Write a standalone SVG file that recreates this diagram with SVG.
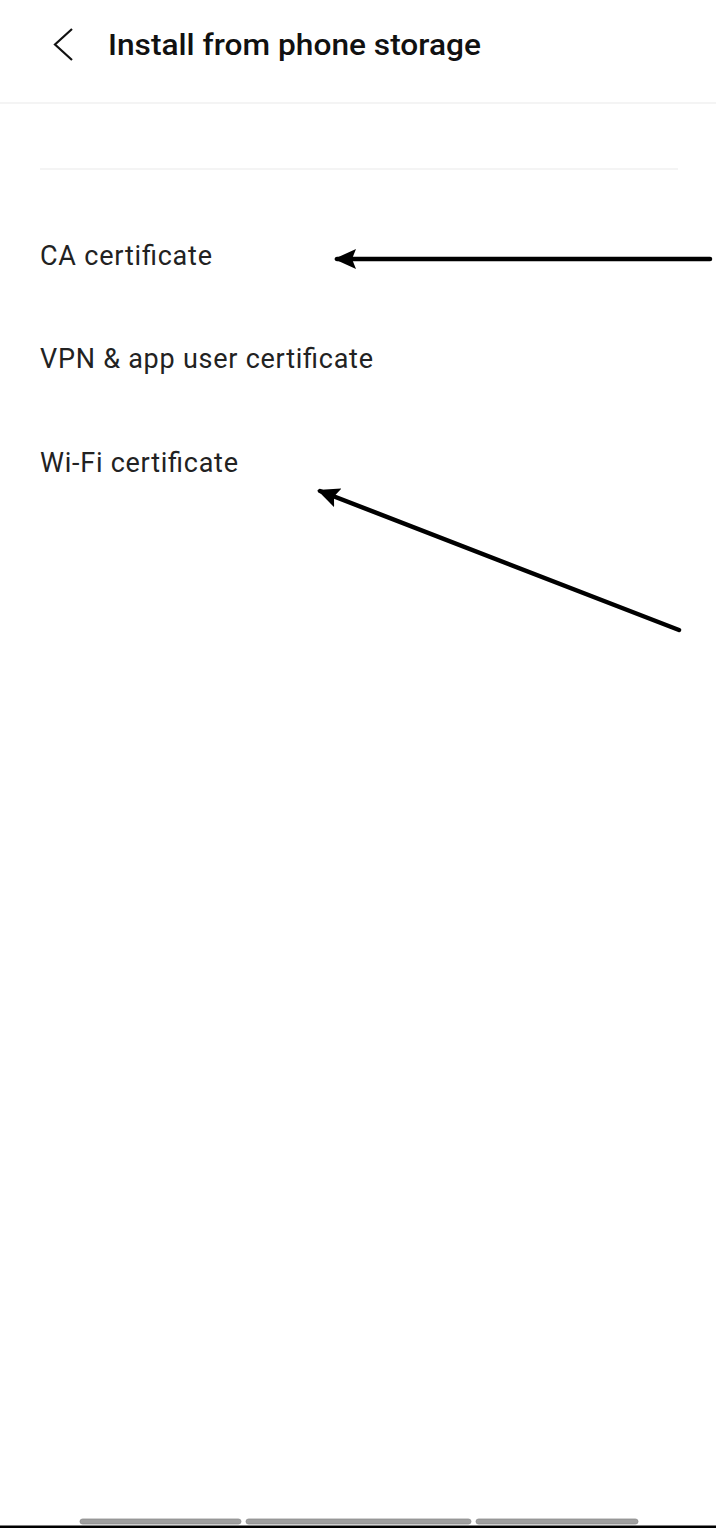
<svg xmlns="http://www.w3.org/2000/svg" width="716" height="1528" viewBox="0 0 716 1528">
<style>
.item{font-family:Roboto,"Liberation Sans",sans-serif;font-size:27px;fill:#222}
.title{font-family:Roboto,"Liberation Sans",sans-serif;font-size:30px;font-weight:500;fill:#111}
.sep{stroke:#f0f0f0;stroke-width:1.5}
.arrow{stroke:#000;stroke-width:4.5;stroke-linecap:round;fill:none}
.bar{fill:#a0a0a0;stroke:#8c8c8c;stroke-width:0.8}
</style>
<defs>
<marker id="ah" viewBox="0 0 22 20" refX="19" refY="10" markerWidth="22" markerHeight="20" markerUnits="userSpaceOnUse" orient="auto">
<path d="M22,10 L0,0 L4,10 L0,20 Z" fill="#000"/>
</marker>
</defs>
<rect width="716" height="1528" fill="#fff"/>
<g id="header">
<path d="M72,29 L55,44.5 L72,60" fill="none" stroke="#111" stroke-width="2.2"/>
<text class="title" x="108" y="55" textLength="373" lengthAdjust="spacingAndGlyphs">Install from phone storage</text>
<line class="sep" x1="0" y1="103" x2="716" y2="103"/>
</g>
<line class="sep" x1="40" y1="169" x2="678" y2="169"/>
<g id="item-ca"><text class="item" x="40" y="265" textLength="172">CA certificate</text></g>
<g id="item-vpn"><text class="item" x="40" y="368" textLength="333">VPN &amp; app user certificate</text></g>
<g id="item-wifi"><text class="item" x="40" y="472" textLength="198">Wi-Fi certificate</text></g>
<g id="connectors">
<line class="arrow" x1="710" y1="259" x2="337" y2="259" marker-end="url(#ah)"/>
<line class="arrow" x1="679" y1="630" x2="320" y2="491" marker-end="url(#ah)"/>
</g>
<g id="navbar">
<rect class="bar" x="80" y="1519" width="161" height="5" rx="2.5"/>
<rect class="bar" x="246" y="1519" width="225" height="5" rx="2.5"/>
<rect class="bar" x="476" y="1519" width="162" height="5" rx="2.5"/>
<rect x="0" y="1525.5" width="716" height="2.5" fill="#000"/>
</g>
</svg>
